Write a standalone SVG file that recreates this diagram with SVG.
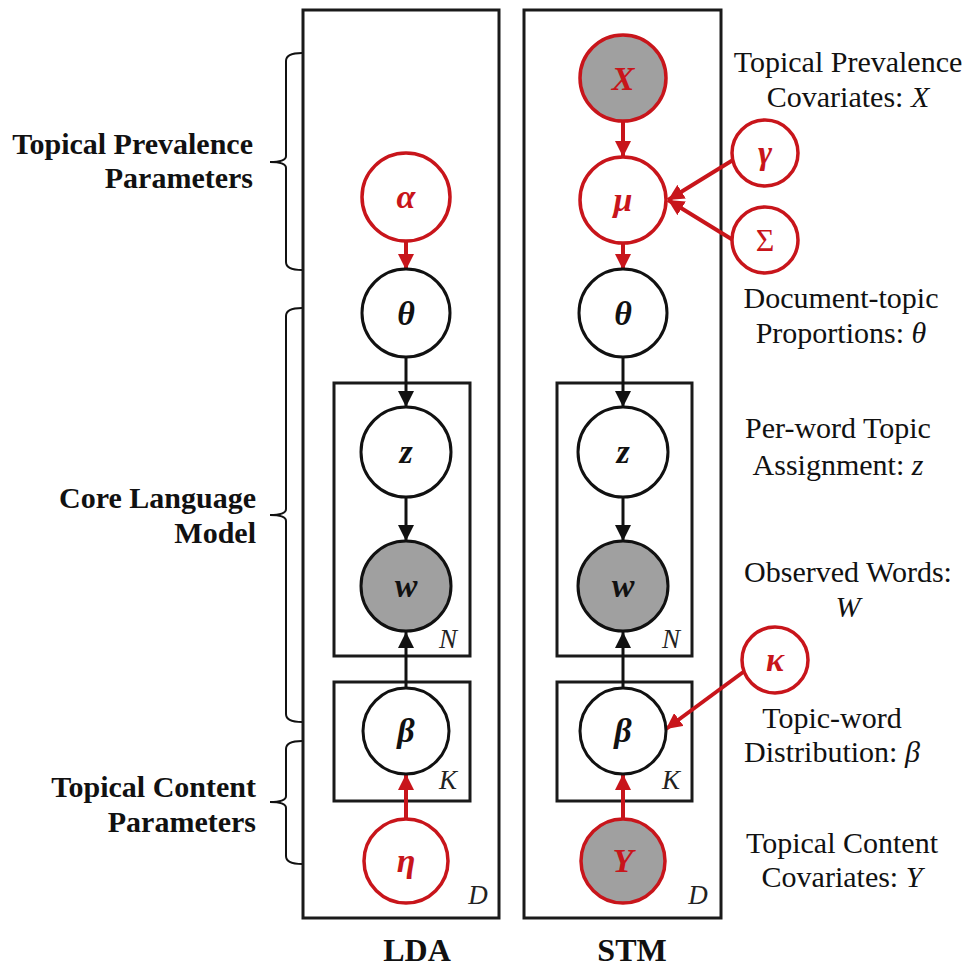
<svg xmlns="http://www.w3.org/2000/svg" width="964" height="968" viewBox="0 0 964 968">
<style>
.box{fill:none;stroke:#1a1a1a;stroke-width:3}
.nb{fill:#fff;stroke:#111;stroke-width:3}
.nr{fill:#fff;stroke:#c8151b;stroke-width:3.5}
.gb{fill:#a0a0a0;stroke:#111;stroke-width:3}
.gr{fill:#a0a0a0;stroke:#c8151b;stroke-width:3.5}
.sym{font-family:"Liberation Serif","Times New Roman",serif;font-size:34px;font-weight:bold;font-style:italic;text-anchor:middle}
.k{fill:#111}
.r{fill:#c8151b}
.plate{font-family:"Liberation Serif","Times New Roman",serif;font-size:27px;font-style:italic;fill:#222;text-anchor:middle}
.lb{font-family:"Liberation Serif","Times New Roman",serif;font-size:30px;font-weight:bold;fill:#111;text-anchor:end}
.rl{font-family:"Liberation Serif","Times New Roman",serif;font-size:30px;fill:#111;text-anchor:middle}
.tt{font-family:"Liberation Serif","Times New Roman",serif;font-size:32px;font-weight:bold;fill:#111;text-anchor:middle}
.brace{fill:none;stroke:#111;stroke-width:2}
.ak{stroke:#111;stroke-width:3;fill:none}
.ar{stroke:#c8151b;stroke-width:4;fill:none}
</style>
<defs>
<marker id="mk" markerUnits="userSpaceOnUse" markerWidth="18" markerHeight="16" refX="16" refY="8" orient="auto"><path d="M0,0 L16,8 L0,16 z" fill="#111"/></marker>
<marker id="mr" markerUnits="userSpaceOnUse" markerWidth="18" markerHeight="16" refX="16" refY="8" orient="auto"><path d="M0,0 L16,8 L0,16 z" fill="#c8151b"/></marker>
</defs>
<rect width="964" height="968" fill="#fff"/>
<g id="braces">
<path class="brace" d="M302,53 Q286,53 286,61 L286,156 Q286,162 270,162 Q286,162 286,168 L286,262 Q286,270 302,270"/>
<path class="brace" d="M302,308 Q286,308 286,316 L286,509 Q286,515 270,515 Q286,515 286,521 L286,714 Q286,722 302,722"/>
<path class="brace" d="M302,741 Q286,741 286,749 L286,796 Q286,802 270,802 Q286,802 286,808 L286,856 Q286,864 302,864"/>
</g>
<g id="left-labels">
<text class="lb" x="253" y="154">Topical Prevalence</text>
<text class="lb" x="253" y="188">Parameters</text>
<text class="lb" x="256" y="508">Core Language</text>
<text class="lb" x="256" y="543">Model</text>
<text class="lb" x="256" y="797">Topical Content</text>
<text class="lb" x="256" y="832">Parameters</text>
</g>
<g id="plates">
<rect class="box" x="303" y="10" width="196" height="908"/>
<rect class="box" x="524" y="10" width="197" height="908"/>
<rect class="box" x="334" y="383" width="136" height="273"/>
<rect class="box" x="334" y="682" width="136" height="119"/>
<rect class="box" x="557" y="383" width="135" height="273"/>
<rect class="box" x="557" y="682" width="135" height="119"/>
<text class="plate" x="478" y="904">D</text>
<text class="plate" x="698" y="904">D</text>
<text class="plate" x="448" y="648">N</text>
<text class="plate" x="671" y="648">N</text>
<text class="plate" x="448" y="789">K</text>
<text class="plate" x="671" y="789">K</text>
</g>
<g id="connectors">
<line class="ar" x1="406" y1="241" x2="406" y2="270" marker-end="url(#mr)"/>
<line class="ak" x1="406" y1="357" x2="406" y2="407" marker-end="url(#mk)"/>
<line class="ak" x1="406" y1="497" x2="406" y2="541" marker-end="url(#mk)"/>
<line class="ak" x1="406" y1="688" x2="406" y2="632" marker-end="url(#mk)"/>
<line class="ar" x1="406" y1="818" x2="406" y2="774" marker-end="url(#mr)"/>
<line class="ar" x1="623" y1="121" x2="623" y2="157" marker-end="url(#mr)"/>
<line class="ar" x1="733" y1="160" x2="668" y2="200" marker-end="url(#mr)"/>
<line class="ar" x1="733" y1="240" x2="668" y2="200" marker-end="url(#mr)"/>
<line class="ar" x1="623" y1="243" x2="623" y2="270" marker-end="url(#mr)"/>
<line class="ak" x1="623" y1="357" x2="623" y2="407" marker-end="url(#mk)"/>
<line class="ak" x1="623" y1="497" x2="623" y2="541" marker-end="url(#mk)"/>
<line class="ak" x1="623" y1="688" x2="623" y2="632" marker-end="url(#mk)"/>
<line class="ar" x1="746" y1="670" x2="666" y2="729" marker-end="url(#mr)"/>
<line class="ar" x1="623" y1="818" x2="623" y2="774" marker-end="url(#mr)"/>
</g>
<g id="lda-alpha"><circle class="nr" cx="406" cy="197" r="44"/><text class="sym r" x="406" y="208">α</text></g>
<g id="lda-theta"><circle class="nb" cx="406" cy="313" r="44"/><text class="sym k" x="406" y="325">θ</text></g>
<g id="lda-z"><circle class="nb" cx="406" cy="452" r="45"/><text class="sym k" x="406" y="463">z</text></g>
<g id="lda-w"><circle class="gb" cx="406" cy="586" r="45"/><text class="sym k" x="406" y="597">w</text></g>
<g id="lda-beta"><circle class="nb" cx="406" cy="731" r="43"/><text class="sym k" x="406" y="742">β</text></g>
<g id="lda-eta"><circle class="nr" cx="406" cy="861" r="42"/><text class="sym r" x="406" y="872">η</text></g>
<g id="stm-X"><circle class="gr" cx="623" cy="78" r="43"/><text class="sym r" x="623" y="90">X</text></g>
<g id="stm-mu"><circle class="nr" cx="623" cy="200" r="43"/><text class="sym r" x="623" y="211">μ</text></g>
<g id="stm-gamma"><circle class="nr" cx="765" cy="153" r="33"/><text class="sym r" x="765" y="164">γ</text></g>
<g id="stm-sigma"><circle class="nr" cx="765" cy="240" r="33"/><text x="765" y="251" font-family="Liberation Serif, Times New Roman, serif" font-size="32" fill="#c8151b" text-anchor="middle">Σ</text></g>
<g id="stm-theta"><circle class="nb" cx="623" cy="313" r="44"/><text class="sym k" x="623" y="325">θ</text></g>
<g id="stm-z"><circle class="nb" cx="623" cy="452" r="45"/><text class="sym k" x="623" y="463">z</text></g>
<g id="stm-w"><circle class="gb" cx="623" cy="586" r="45"/><text class="sym k" x="623" y="597">w</text></g>
<g id="stm-beta"><circle class="nb" cx="623" cy="731" r="43"/><text class="sym k" x="623" y="742">β</text></g>
<g id="stm-kappa"><circle class="nr" cx="775" cy="660" r="33"/><text class="sym r" x="775" y="671">κ</text></g>
<g id="stm-Y"><circle class="gr" cx="623" cy="861" r="42"/><text class="sym r" x="623" y="872">Y</text></g>
<g id="right-labels">
<text class="rl" x="848" y="72">Topical Prevalence</text>
<text class="rl" x="848" y="107">Covariates: <tspan font-style="italic">X</tspan></text>
<text class="rl" x="841" y="308">Document-topic</text>
<text class="rl" x="841" y="343">Proportions: <tspan font-style="italic">θ</tspan></text>
<text class="rl" x="838" y="438">Per-word Topic</text>
<text class="rl" x="838" y="475">Assignment: <tspan font-style="italic">z</tspan></text>
<text class="rl" x="848" y="582">Observed Words:</text>
<text class="rl" x="848" y="617" font-style="italic">W</text>
<text class="rl" x="832" y="728">Topic-word</text>
<text class="rl" x="832" y="762">Distribution: <tspan font-style="italic">β</tspan></text>
<text class="rl" x="842" y="853">Topical Content</text>
<text class="rl" x="842" y="887">Covariates: <tspan font-style="italic">Y</tspan></text>
</g>
<g id="titles">
<text class="tt" x="417" y="961">LDA</text>
<text class="tt" x="632" y="961">STM</text>
</g>
</svg>
